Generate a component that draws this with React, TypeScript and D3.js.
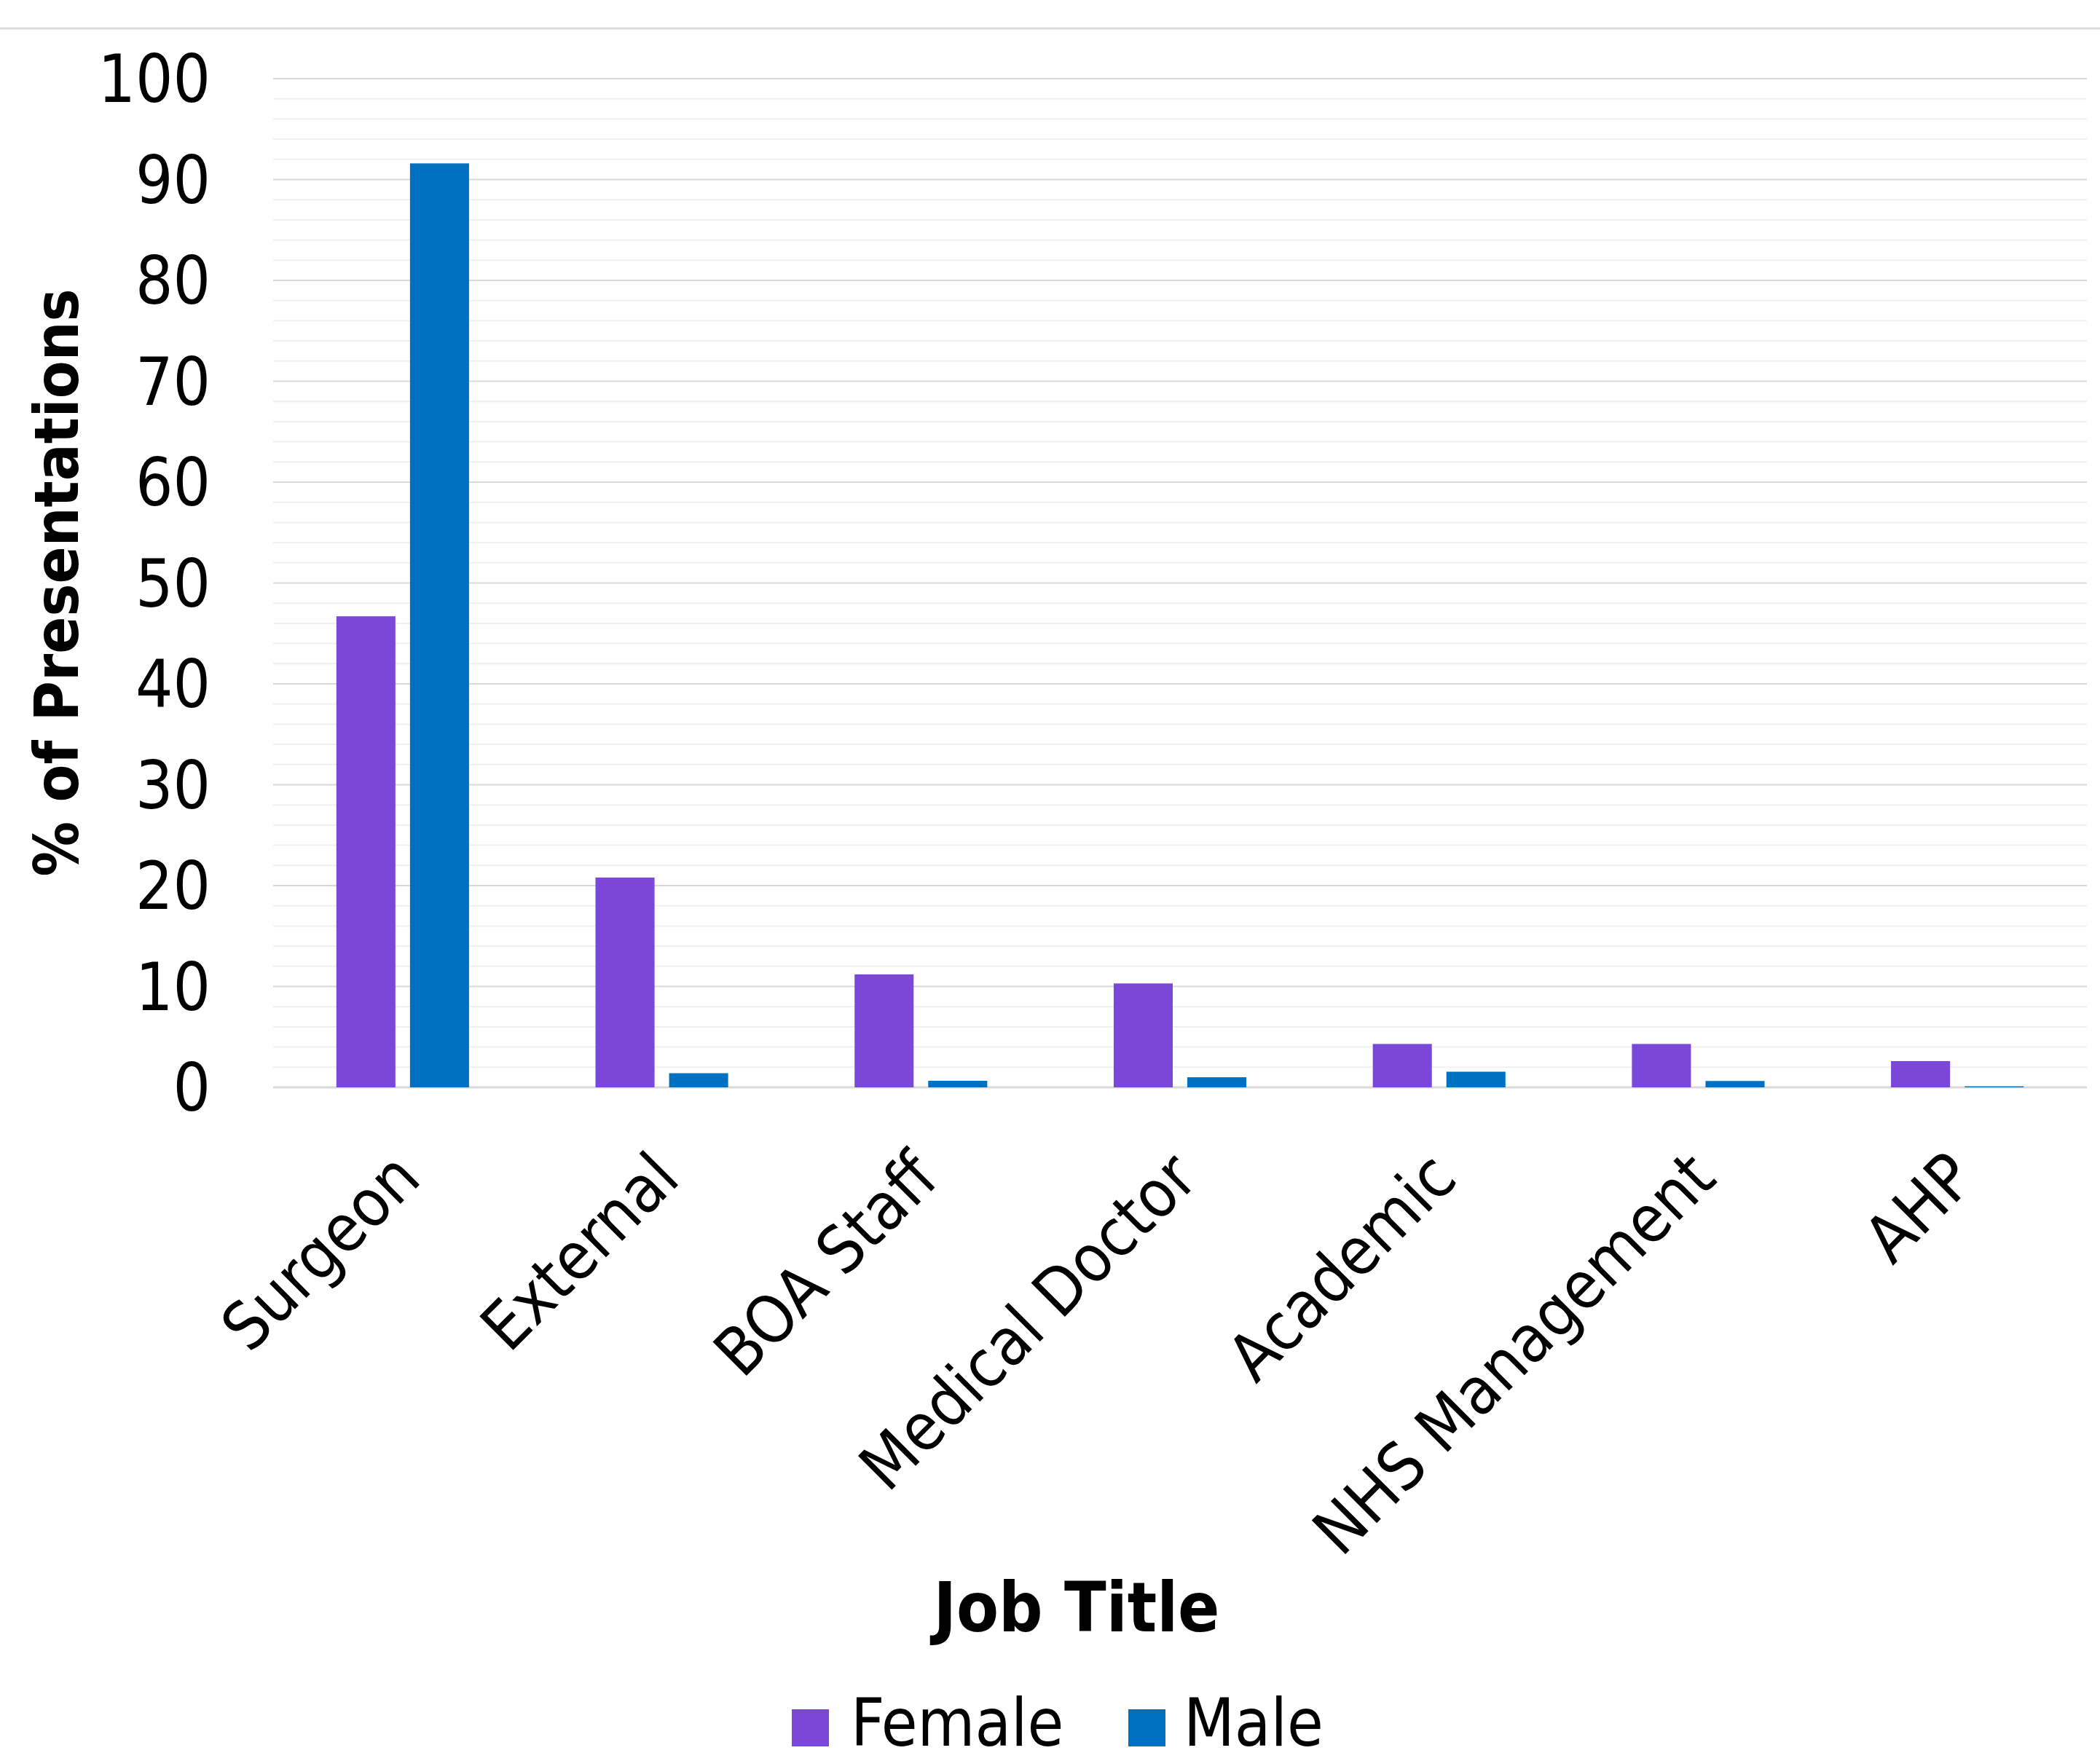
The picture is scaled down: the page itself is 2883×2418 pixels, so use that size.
import React, { useEffect, useRef } from "react";
import * as d3 from "d3";

const categories = ["Surgeon", "External", "BOA Staff", "Medical Doctor", "Academic", "NHS Management", "AHP"];
const seriesNames = ["Female", "Male"];
const femaleValues = [46.7, 20.8, 11.2, 10.3, 4.3, 4.3, 2.6];
const maleValues = [91.6, 1.4, 0.65, 1.0, 1.55, 0.63, 0.1];
const seriesColors = ["#7B47D8", "#0070C0"];
const yMajorTicks = [0, 10, 20, 30, 40, 50, 60, 70, 80, 90, 100];
const yMinorTicks = d3.range(0, 101, 2);

const W = 2883;
const H = 2418;
const FONT = "'DejaVu Sans Condensed', 'DejaVu Sans', sans-serif";

export default function App() {
  const ref = useRef<SVGSVGElement>(null);

  useEffect(() => {
    const svg = d3.select(ref.current);
    svg.selectAll("*").remove();

    const left = 375, right = 2865, top = 108, bottom = 1493;
    const y = d3.scaleLinear().domain([0, 100]).range([bottom, top]);
    const x0 = d3.scaleBand<string>().domain(categories).range([left, right]).paddingInner(0.488).paddingOuter(0.244);
    const x1 = d3.scaleBand<string>().domain(seriesNames).range([0, x0.bandwidth()]).paddingInner(0.198);

    // top border line
    svg.append("line").attr("x1", 0).attr("x2", W).attr("y1", 39).attr("y2", 39)
      .attr("stroke", "#d9d9d9").attr("stroke-width", 3);

    // minor gridlines
    svg.append("g").selectAll("line").data(yMinorTicks.filter(v => v % 10 !== 0)).join("line")
      .attr("x1", left).attr("x2", right)
      .attr("y1", d => y(d)).attr("y2", d => y(d))
      .attr("stroke", "#f0f0f0").attr("stroke-width", 2);

    // major gridlines
    svg.append("g").selectAll("line").data(yMajorTicks).join("line")
      .attr("x1", left).attr("x2", right)
      .attr("y1", d => y(d)).attr("y2", d => y(d))
      .attr("stroke", "#d9d9d9").attr("stroke-width", d => (d === 0 ? 3 : 2));

    // y tick labels
    svg.append("g").selectAll("text").data(yMajorTicks).join("text")
      .attr("x", 289).attr("y", d => y(d)).attr("dy", "0.36em")
      .attr("text-anchor", "end")
      .attr("font-family", FONT).attr("font-size", 90).attr("fill", "#000")
      .text(d => String(d));

    // bars
    const seriesData = [femaleValues, maleValues];
    const groups = svg.append("g").selectAll("g").data(categories).join("g")
      .attr("transform", d => `translate(${x0(d)},0)`);
    groups.selectAll("rect")
      .data((_, i) => seriesNames.map((s, k) => ({ s, k, v: seriesData[k][i] })))
      .join("rect")
      .attr("x", d => x1(d.s) as number)
      .attr("width", x1.bandwidth())
      .attr("y", d => y(d.v))
      .attr("height", d => y(0) - y(d.v))
      .attr("fill", d => seriesColors[d.k]);

    // category labels
    svg.append("g").selectAll("text").data(categories).join("text")
      .attr("transform", d => `translate(${(x0(d) as number) + x0.bandwidth() / 2 - 18},1576) rotate(-45)`)
      .attr("dy", "0.72em")
      .attr("text-anchor", "end")
      .attr("font-family", FONT).attr("font-size", 90).attr("fill", "#000")
      .text(d => d);

    // y axis title
    svg.append("text")
      .attr("transform", `translate(77,800) rotate(-90)`)
      .attr("dy", "0.36em")
      .attr("text-anchor", "middle")
      .attr("font-family", FONT).attr("font-weight", "bold").attr("font-size", 84).attr("fill", "#000")
      .text("% of Presentations");

    // x axis title
    svg.append("text")
      .attr("x", 1478).attr("y", 2240)
      .attr("text-anchor", "middle")
      .attr("font-family", FONT).attr("font-weight", "bold").attr("font-size", 94).attr("fill", "#000")
      .text("Job Title");

    // legend
    const legendX = [1087, 1549];
    const lg = svg.append("g").selectAll("g").data(seriesNames).join("g")
      .attr("transform", (_, i) => `translate(${legendX[i]},0)`);
    lg.append("rect").attr("x", 0).attr("y", 2347).attr("width", 51).attr("height", 51)
      .attr("fill", (_, i) => seriesColors[i]);
    lg.append("text").attr("x", (_, i) => (i === 0 ? 81 : 76)).attr("y", 2397)
      .attr("font-family", FONT).attr("font-size", 90).attr("fill", "#000")
      .text(d => d);
  }, []);

  return (
    <svg ref={ref} width={W} height={H} viewBox={`0 0 ${W} ${H}`}
      style={{ position: "absolute", left: 0, top: 0, display: "block", background: "#fff" }} />
  );
}
